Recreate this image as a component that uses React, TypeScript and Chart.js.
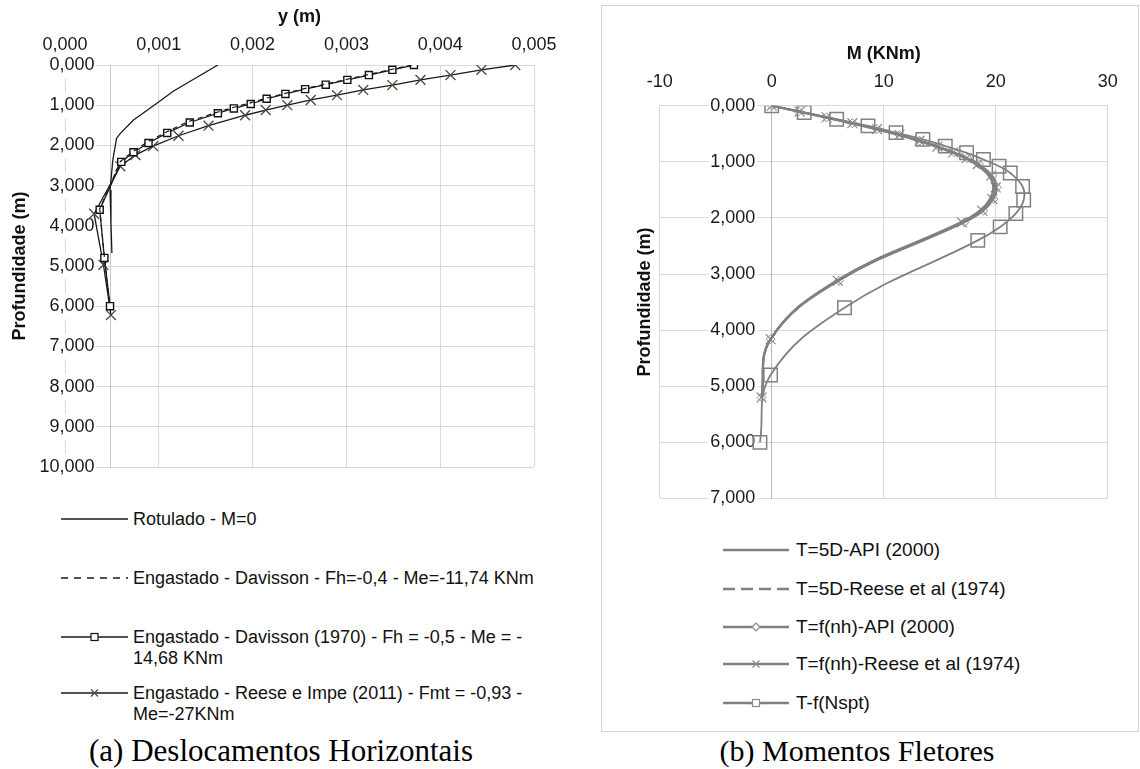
import React, { useEffect, useRef } from "react";
import { Chart, registerables } from "chart.js";

Chart.register(...registerables);

// ---------- (a) Deslocamentos Horizontais ----------
const rotuladoDepth = [0, 0.41, 0.66, 0.95, 1.37, 1.7, 1.82, 2.36, 3.11, 3.94, 4.68];
const rotuladoY = [0.00163, 0.00133, 0.00115, 0.00098, 0.00073, 0.00059, 0.00055, 0.00051, 0.00048, 0.00049, 0.0005];

const davissonDepth = [0, 0.12, 0.25, 0.37, 0.49, 0.6, 0.72, 0.84, 0.96, 1.07, 1.19, 1.42, 1.68, 1.93, 2.16, 2.4, 3.58, 4.78, 5.98];
const davissonY = [0.0037, 0.00346, 0.00321, 0.00298, 0.00275, 0.00253, 0.00232, 0.00212, 0.00195, 0.00177, 0.0016, 0.0013, 0.00107, 0.00087, 0.00072, 0.00059, 0.00037, 0.00042, 0.00048];

const davisson1970Depth = [0, 0.12, 0.25, 0.37, 0.49, 0.6, 0.72, 0.84, 0.97, 1.08, 1.2, 1.43, 1.69, 1.94, 2.17, 2.41, 3.6, 4.8, 6.0];
const davisson1970Y = [0.00372, 0.00349, 0.00324, 0.00301, 0.00278, 0.00256, 0.00235, 0.00215, 0.00198, 0.0018, 0.00163, 0.00133, 0.00109, 0.00089, 0.00073, 0.0006, 0.00037, 0.00042, 0.00048];

const reeseImpeDepth = [0, 0.12, 0.25, 0.37, 0.5, 0.62, 0.75, 0.87, 1.0, 1.12, 1.25, 1.51, 1.76, 2.02, 2.24, 2.52, 3.7, 4.97, 6.22];
const reeseImpeY = [0.0048, 0.00444, 0.00411, 0.00379, 0.00349, 0.00318, 0.0029, 0.00262, 0.00237, 0.00214, 0.00192, 0.00153, 0.00121, 0.00094, 0.00075, 0.00059, 0.00031, 0.00041, 0.00049];

const leftAxisCross = 0.00048;

const leftLegendLabels = [
  ["Rotulado - M=0"],
  ["Engastado - Davisson - Fh=-0,4 - Me=-11,74 KNm"],
  ["Engastado - Davisson (1970) - Fh = -0,5 - Me = -", "14,68 KNm"],
  ["Engastado - Reese e Impe (2011) - Fmt = -0,93 -", "Me=-27KNm"],
];

// ---------- (b) Momentos Fletores ----------
const nhDepth = [0, 0.104, 0.208, 0.312, 0.416, 0.52, 0.624, 0.728, 0.832, 0.936, 1.04, 1.248, 1.456, 1.664, 1.872, 2.08, 3.12, 4.16, 5.2];
const api5dM = [0, 2.4, 4.8, 7.1, 9.3, 11.3, 13.1, 14.7, 16.1, 17.3, 18.2, 19.4, 19.8, 19.5, 18.6, 16.9, 5.8, -0.1, -0.9];
const reese5dM = [0, 2.4, 4.8, 7.1, 9.3, 11.3, 13.1, 14.8, 16.2, 17.4, 18.3, 19.5, 19.9, 19.6, 18.7, 17.0, 5.9, -0.1, -0.9];
const apiNhM = [0, 2.4, 4.9, 7.2, 9.4, 11.4, 13.2, 14.9, 16.3, 17.5, 18.5, 19.7, 20.1, 19.8, 18.9, 17.2, 6.0, -0.1, -0.9];
const reeseNhM = [0, 2.5, 4.9, 7.2, 9.4, 11.4, 13.2, 14.8, 16.2, 17.4, 18.4, 19.6, 20.0, 19.7, 18.8, 17.0, 5.9, -0.1, -0.9];

const nsptDepth = [0, 0.12, 0.24, 0.36, 0.48, 0.6, 0.72, 0.84, 0.96, 1.08, 1.2, 1.44, 1.68, 1.92, 2.16, 2.4, 3.6, 4.8, 6.0];
const nsptM = [0, 2.9, 5.8, 8.6, 11.1, 13.5, 15.5, 17.4, 18.9, 20.3, 21.3, 22.4, 22.5, 21.8, 20.4, 18.4, 6.5, -0.1, -1.05];

const rightLegendLabels = [
  "T=5D-API (2000)",
  "T=5D-Reese et al (1974)",
  "T=f(nh)-API (2000)",
  "T=f(nh)-Reese et al (1974)",
  "T-f(Nspt)",
];

const FONT = "'Liberation Sans', Arial, sans-serif";
const GRID = "#d9d9d9";
const GRAY = "#808080";

const pts = (xs: number[], ys: number[]) => xs.map((x, i) => ({ x, y: ys[i] }));
const fmt3 = (v: any) => Number(v).toFixed(3).replace(".", ",");

// y-axis placed at a data value: move its labels a little away from the axis line
const shiftYLabels = (gap: number) => ({
  id: "shiftYLabels",
  beforeDraw(chart: any) {
    const s = chart.scales.y;
    if (!s) return;
    const items = s.getLabelItems(chart.chartArea);
    items.forEach((it: any) => {
      it.options.translation[0] -= gap;
    });
  },
});

function LeftChart() {
  const ref = useRef<HTMLCanvasElement>(null);
  useEffect(() => {
    const chart = new Chart(ref.current!, {
      type: "scatter",
      data: {
        datasets: [
          {
            label: leftLegendLabels[0][0],
            data: pts(rotuladoY, rotuladoDepth),
            showLine: true,
            borderColor: "#1a1a1a",
            borderWidth: 1.3,
            pointRadius: 0,
          },
          {
            label: leftLegendLabels[1][0],
            data: pts(davissonY, davissonDepth),
            showLine: true,
            borderColor: "#1a1a1a",
            borderWidth: 1.2,
            borderDash: [5, 4],
            pointRadius: 0,
          },
          {
            label: leftLegendLabels[2][0],
            data: pts(davisson1970Y, davisson1970Depth),
            showLine: true,
            borderColor: "#1a1a1a",
            borderWidth: 1.3,
            pointStyle: "rect",
            pointRadius: 5,
            pointBorderWidth: 1.4,
            pointBorderColor: "#111",
            pointBackgroundColor: "#fff",
          },
          {
            label: leftLegendLabels[3][0],
            data: pts(reeseImpeY, reeseImpeDepth),
            showLine: true,
            borderColor: "#1a1a1a",
            borderWidth: 1.3,
            pointStyle: "crossRot",
            pointRadius: 7,
            pointBorderWidth: 1.3,
            pointBorderColor: "#4d463a",
          },
        ],
      },
      options: {
        responsive: false,
        animation: false,
        layout: { padding: { left: 4, top: 2, right: 36, bottom: 13 } },
        plugins: { legend: { display: false }, tooltip: { enabled: false } },
        scales: {
          x: {
            type: "linear",
            position: "top",
            min: 0,
            max: 0.005,
            ticks: {
              stepSize: 0.001,
              padding: 9.2,
              autoSkip: false,
              maxRotation: 0,
              color: "#1a1a1a",
              font: { family: FONT, size: 18 },
              callback: (v: any) => fmt3(v),
            },
            grid: { color: GRID, drawTicks: false },
            border: { color: GRID },
            title: {
              display: true,
              text: "y (m)",
              color: "#111",
              font: { family: FONT, size: 18, weight: "bold", lineHeight: 1 },
              padding: { top: 5.7, bottom: -0.7 },
            },
          },
          y: {
            type: "linear",
            position: { x: leftAxisCross },
            reverse: true,
            min: 0,
            max: 10,
            ticks: {
              stepSize: 1,
              padding: 0,
              autoSkip: false,
              color: "#1a1a1a",
              font: { family: FONT, size: 18 },
              showLabelBackdrop: true,
              backdropColor: "#ffffff",
              backdropPadding: 2,
              callback: (v: any) => fmt3(v),
            },
            grid: { color: GRID, drawTicks: false },
            border: { color: "#c6c6c6" },
          },
          yTitle: {
            type: "linear",
            position: "left",
            ticks: { display: false },
            grid: { display: false, drawTicks: false },
            border: { display: false },
            title: {
              display: true,
              text: "Profundidade (m)",
              color: "#111",
              font: { family: FONT, size: 18, weight: "bold" },
              padding: { top: 5.2, bottom: 34.2 },
            },
          },
        },
      },
      plugins: [shiftYLabels(15.5)],
    } as any);
    return () => chart.destroy();
  }, []);
  return (
    <canvas
      ref={ref}
      width={570}
      height={480}
      style={{ position: "absolute", left: 0, top: 0, width: 570, height: 480 }}
    />
  );
}

function RightChart() {
  const ref = useRef<HTMLCanvasElement>(null);
  useEffect(() => {
    const chart = new Chart(ref.current!, {
      type: "scatter",
      data: {
        datasets: [
          {
            label: rightLegendLabels[0],
            data: pts(api5dM, nhDepth),
            showLine: true,
            borderColor: GRAY,
            borderWidth: 2.5,
            pointRadius: 0,
            tension: 0.4,
          },
          {
            label: rightLegendLabels[1],
            data: pts(reese5dM, nhDepth),
            showLine: true,
            borderColor: GRAY,
            borderWidth: 2,
            borderDash: [7, 5],
            pointRadius: 0,
            tension: 0.4,
          },
          {
            label: rightLegendLabels[2],
            data: pts(apiNhM, nhDepth),
            showLine: true,
            borderColor: GRAY,
            borderWidth: 1.8,
            pointStyle: "rectRot",
            pointRadius: 4.5,
            pointBorderWidth: 1,
            pointBorderColor: "#8c8c8c",
            pointBackgroundColor: "rgba(0,0,0,0)",
            tension: 0.4,
          },
          {
            label: rightLegendLabels[3],
            data: pts(reeseNhM, nhDepth),
            showLine: true,
            borderColor: GRAY,
            borderWidth: 1.8,
            pointStyle: "crossRot",
            pointRadius: 7,
            pointBorderWidth: 1.2,
            pointBorderColor: "#8c8c8c",
            tension: 0.4,
          },
          {
            label: rightLegendLabels[4],
            data: pts(nsptM, nsptDepth),
            showLine: true,
            borderColor: GRAY,
            borderWidth: 1.8,
            pointStyle: "rect",
            pointRadius: 9.5,
            pointBorderWidth: 1.5,
            pointBorderColor: GRAY,
            pointBackgroundColor: "rgba(0,0,0,0)",
            tension: 0.4,
          },
        ],
      },
      options: {
        responsive: false,
        animation: false,
        layout: { padding: { left: 28, top: 30, right: 30.3, bottom: 13.5 } },
        plugins: { legend: { display: false }, tooltip: { enabled: false } },
        scales: {
          x: {
            type: "linear",
            position: "top",
            min: -10,
            max: 30,
            ticks: {
              stepSize: 10,
              padding: 13.2,
              autoSkip: false,
              maxRotation: 0,
              color: "#1a1a1a",
              font: { family: FONT, size: 18 },
              callback: (v: any) => String(v),
            },
            grid: { color: GRID, drawTicks: false },
            border: { color: GRID },
            title: {
              display: true,
              text: "M (KNm)",
              color: "#111",
              font: { family: FONT, size: 18, weight: "bold", lineHeight: 1 },
              padding: { top: 9, bottom: -5.3 },
            },
          },
          y: {
            type: "linear",
            position: { x: 0 },
            reverse: true,
            min: 0,
            max: 7,
            ticks: {
              stepSize: 1,
              padding: 0,
              autoSkip: false,
              color: "#1a1a1a",
              font: { family: FONT, size: 18 },
              showLabelBackdrop: true,
              backdropColor: "#ffffff",
              backdropPadding: 2,
              callback: (v: any) => fmt3(v),
            },
            grid: { color: GRID, drawTicks: false },
            border: { color: "#b8b8b8" },
          },
          yTitle: {
            type: "linear",
            position: "left",
            ticks: { display: false },
            grid: { display: false, drawTicks: false },
            border: { display: false },
            title: {
              display: true,
              text: "Profundidade (m)",
              color: "#111",
              font: { family: FONT, size: 18, weight: "bold" },
              padding: { top: 4.2, bottom: 3.9 },
            },
          },
        },
      },
      plugins: [shiftYLabels(16.5)],
    } as any);
    return () => chart.destroy();
  }, []);
  return (
    <canvas
      ref={ref}
      width={536}
      height={506}
      style={{ position: "absolute", left: 602, top: 6, width: 536, height: 506 }}
    />
  );
}

type Marker = "none" | "square" | "x" | "diamond";

function Sample(props: {
  left: number;
  cy: number;
  len: number;
  color: string;
  width: number;
  dash?: string;
  marker: Marker;
  markerColor: string;
}) {
  const { left, cy, len, color, width, dash, marker, markerColor } = props;
  const m = len / 2;
  return (
    <svg
      width={len}
      height={16}
      style={{ position: "absolute", left, top: cy - 8, overflow: "visible" }}
    >
      <line x1={0} y1={8} x2={len} y2={8} stroke={color} strokeWidth={width} strokeDasharray={dash} />
      {marker === "square" && (
        <rect x={m - 3.5} y={4.5} width={7} height={7} fill="#fff" stroke={markerColor} strokeWidth={1.2} />
      )}
      {marker === "x" && (
        <path
          d={`M${m - 3.5} 4.5 L${m + 3.5} 11.5 M${m + 3.5} 4.5 L${m - 3.5} 11.5`}
          stroke={markerColor}
          strokeWidth={1.2}
        />
      )}
      {marker === "diamond" && (
        <path
          d={`M${m} 4 L${m + 4} 8 L${m} 12 L${m - 4} 8 Z`}
          fill="#fff"
          stroke={markerColor}
          strokeWidth={1.2}
        />
      )}
    </svg>
  );
}

const leftRowsY = [519, 578, 637, 693];
const leftStyles: { dash?: string; marker: Marker }[] = [
  { marker: "none" },
  { dash: "7 6", marker: "none" },
  { marker: "square" },
  { marker: "x" },
];

const rightRowsY = [550, 589, 627, 664, 703];
const rightStyles: { dash?: string; marker: Marker; w: number }[] = [
  { marker: "none", w: 2.5 },
  { dash: "12 6", marker: "none", w: 2.5 },
  { marker: "diamond", w: 2.5 },
  { marker: "x", w: 2.5 },
  { marker: "square", w: 2.5 },
];

export default function App() {
  return (
    <div
      style={{
        position: "absolute",
        left: 0,
        top: 0,
        width: 1140,
        height: 769,
        background: "#fff",
        overflow: "hidden",
      }}
    >
      <LeftChart />
      <div
        style={{
          position: "absolute",
          left: 601,
          top: 5,
          width: 538,
          height: 727,
          border: "1px solid #d4d4d4",
          boxSizing: "border-box",
          pointerEvents: "none",
        }}
      />
      <RightChart />

      {leftLegendLabels.map((lines, i) => (
        <React.Fragment key={"l" + i}>
          <Sample
            left={61}
            cy={leftRowsY[i]}
            len={67}
            color="#1a1a1a"
            width={1.3}
            dash={leftStyles[i].dash}
            marker={leftStyles[i].marker}
            markerColor={i === 3 ? "#4d463a" : "#111"}
          />
          <div
            style={{
              position: "absolute",
              left: 133,
              top: leftRowsY[i] - 10.5,
              fontFamily: FONT,
              fontSize: 18,
              lineHeight: "21px",
              color: "#111",
              whiteSpace: "nowrap",
            }}
          >
            {lines.map((t, j) => (
              <div key={j}>{t}</div>
            ))}
          </div>
        </React.Fragment>
      ))}

      {rightLegendLabels.map((t, i) => (
        <React.Fragment key={"r" + i}>
          <Sample
            left={723}
            cy={rightRowsY[i]}
            len={66}
            color={GRAY}
            width={rightStyles[i].w}
            dash={rightStyles[i].dash}
            marker={rightStyles[i].marker}
            markerColor="#8c8c8c"
          />
          <div
            style={{
              position: "absolute",
              left: 796,
              top: rightRowsY[i] - 11,
              fontFamily: FONT,
              fontSize: 19,
              lineHeight: "22px",
              color: "#111",
              whiteSpace: "nowrap",
            }}
          >
            {t}
          </div>
        </React.Fragment>
      ))}

      <div
        style={{
          position: "absolute",
          left: 281 - 250,
          width: 500,
          top: 751 - 18,
          textAlign: "center",
          fontFamily: "'Liberation Serif', 'Times New Roman', serif",
          fontSize: 31,
          lineHeight: "36px",
          color: "#000",
        }}
      >
        (a) Deslocamentos Horizontais
      </div>
      <div
        style={{
          position: "absolute",
          left: 857 - 250,
          width: 500,
          top: 751 - 18,
          textAlign: "center",
          fontFamily: "'Liberation Serif', 'Times New Roman', serif",
          fontSize: 30,
          lineHeight: "36px",
          color: "#000",
        }}
      >
        (b) Momentos Fletores
      </div>
    </div>
  );
}
